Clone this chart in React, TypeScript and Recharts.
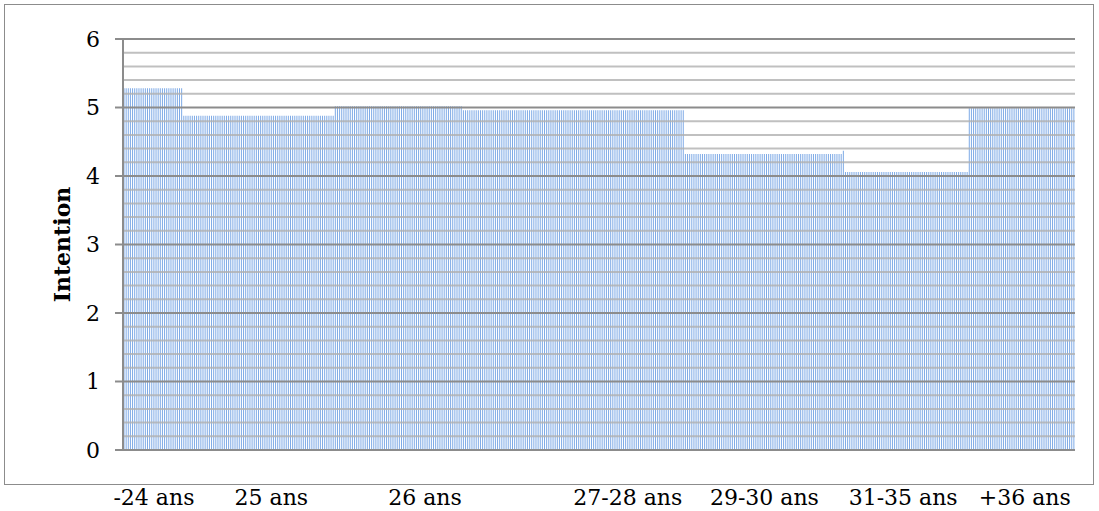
import React from "react";
import { BarChart, Bar, XAxis, YAxis, ReferenceLine, Label } from "recharts";

// Age groups are made of many individual bars (one per respondent)
const segmentValues = [5.28, 4.88, 5.02, 4.96, 4.32, 4.37, 4.06, 4.99];
const segmentCounts = [28, 71, 60, 104, 74, 1, 58, 50];

const tickLabels = ["-24 ans", "25 ans", "26 ans", "27-28 ans", "29-30 ans", "31-35 ans", "+36 ans"];
const tickIndices = [14, 69, 141, 236, 300, 365, 422];

const yMajor = [0, 1, 2, 3, 4, 5, 6];
const yMinor = [
  0.2, 0.4, 0.6, 0.8, 1.2, 1.4, 1.6, 1.8, 2.2, 2.4, 2.6, 2.8,
  3.2, 3.4, 3.6, 3.8, 4.2, 4.4, 4.6, 4.8, 5.2, 5.4, 5.6, 5.8,
];

const data: { i: number; v: number }[] = [];
segmentValues.forEach((v, s) => {
  for (let k = 0; k < segmentCounts[s]; k++) data.push({ i: data.length, v });
});

const labelMap = new Map<number, string>();
tickIndices.forEach((idx, n) => labelMap.set(idx, tickLabels[n]));

const FONT = "'DejaVu Serif', serif";

const XTick = (props: any) => {
  const { x, y, payload } = props;
  const label = labelMap.get(Number(payload.value));
  if (!label) return <g />;
  return (
    <text x={x} y={y + 47} textAnchor="middle" fontFamily={FONT} fontSize={22} fill="#000">
      {label}
    </text>
  );
};

export default function App() {
  return (
    <div style={{ position: "absolute", left: 0, top: 0, width: 1099, height: 511, background: "#fff" }}>
      <div
        style={{
          position: "absolute",
          left: 4,
          top: 4,
          width: 1088,
          height: 479,
          border: "1px solid #8c8c8c",
        }}
      />
      <div style={{ position: "absolute", left: 0, top: 0 }}>
        <BarChart
          width={1099}
          height={511}
          data={data}
          margin={{ top: 39, right: 24, bottom: 0, left: 0 }}
          barCategoryGap="24%"
        >
          <XAxis
            dataKey="i"
            interval={0}
            tick={<XTick />}
            tickLine={false}
            axisLine={false}
            height={61}
          />
          <YAxis
            domain={[0, 6]}
            ticks={yMajor}
            width={123}
            tickSize={8}
            tickMargin={15}
            axisLine={false}
            tickLine={{ stroke: "#8c8c8c", strokeWidth: 2 }}
            tick={{ fontFamily: FONT, fontSize: 22, fill: "#000" }}
          >
            <Label
              value="Intention"
              angle={-90}
              position="insideLeft"
              offset={62}
              style={{ fontFamily: FONT, fontSize: 22, fontWeight: "bold", fill: "#000", textAnchor: "middle" }}
            />
          </YAxis>
          <Bar dataKey="v" fill="#7eaae6" isAnimationActive={false} />
          {yMinor.map((y) => (
            <ReferenceLine key={"m" + y} y={y} stroke="#b0b0b0" strokeWidth={2} strokeOpacity={0.8} />
          ))}
          {yMajor.map((y) => (
            <ReferenceLine key={"M" + y} y={y} stroke="#8c8c8c" strokeWidth={2} />
          ))}
          <ReferenceLine x={0} stroke="#8c8c8c" strokeWidth={2} position="start" />
        </BarChart>
      </div>
    </div>
  );
}
